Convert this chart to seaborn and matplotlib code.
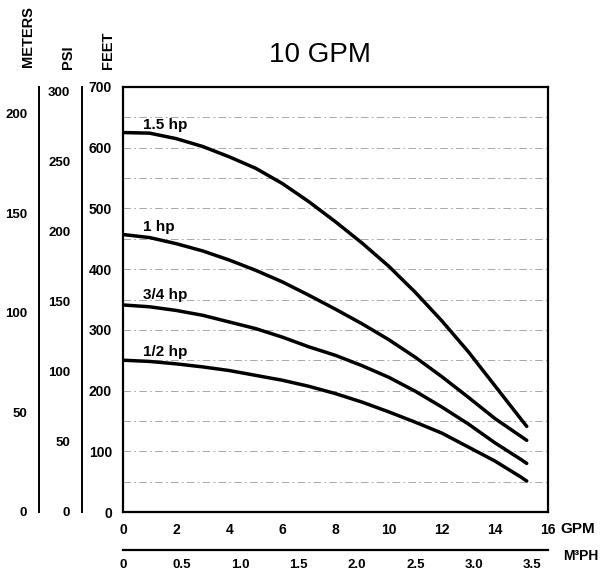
import pandas as pd
import seaborn as sns
import matplotlib
matplotlib.use("Agg")
import matplotlib.pyplot as plt

# 읽어온 값 (GPM 기준, FEET 단위)
gpm = [0, 1, 2, 3, 4, 5, 6, 7, 8, 9, 10, 11, 12, 13, 14, 15, 15.2]
hp_15 = [625, 624, 615, 602, 585, 566, 541, 511, 478, 443, 405, 362, 315, 264, 208, 152, 141]
hp_1 = [457, 452, 442, 430, 415, 398, 379, 357, 334, 310, 284, 255, 223, 189, 154, 124, 118]
hp_34 = [341, 338, 332, 324, 313, 302, 288, 272, 258, 241, 222, 199, 173, 145, 114, 86, 80]
hp_12 = [250, 248, 244, 239, 233, 225, 217, 207, 195, 181, 165, 148, 130, 107, 84, 57, 51]
motors = ["1.5 hp", "1 hp", "3/4 hp", "1/2 hp"]
label_y = [637, 470, 357, 264]

feet_ticks = [0, 100, 200, 300, 400, 500, 600, 700]
psi_ticks = [0, 50, 100, 150, 200, 250, 300]
meter_ticks = [0, 50, 100, 150, 200]
gpm_ticks = [0, 2, 4, 6, 8, 10, 12, 14, 16]
m3ph_ticks = [0, 0.5, 1.0, 1.5, 2.0, 2.5, 3.0, 3.5]

curves = pd.DataFrame({
    "gpm": gpm * 4,
    "feet": hp_15 + hp_1 + hp_34 + hp_12,
    "motor": [m for m in motors for _ in gpm],
})

sns.set_style("white")
plt.rcParams["font.family"] = ["Liberation Sans", "DejaVu Sans"]
for k in ["text.color", "axes.labelcolor", "xtick.color", "ytick.color"]:
    plt.rcParams[k] = "black"

W, H = 607, 577
fig = plt.figure(figsize=(W / 100, H / 100), dpi=100)

x0, x1, y0, y1 = 123, 548, 87, 512
ax = fig.add_axes([x0 / W, 1 - y1 / H, (x1 - x0) / W, (y1 - y0) / H])

#곡선
sns.lineplot(data=curves, x="gpm", y="feet", hue="motor",
             palette=["black"] * 4, linewidth=2.5, legend=False, ax=ax)

#점선 가이드
for v in range(50, 700, 50):
    ax.axhline(v, color="#9a9a9a", lw=0.6, ls=(0, (9, 4, 2, 4)), zorder=0)

for name, ly in zip(motors, label_y):
    ax.text(0.76, ly, name, fontsize=11, fontweight="bold", va="center", ha="left")

ax.set_xlim(0, 16)
ax.set_ylim(0, 700)
ax.set_xticks(gpm_ticks)
ax.set_yticks(feet_ticks)
ax.tick_params(length=0, labelsize=10, pad=8)
for lab in ax.get_xticklabels() + ax.get_yticklabels():
    lab.set_fontweight("bold")
ax.set_xlabel("")
ax.set_ylabel("")
for s in ax.spines.values():
    s.set_linewidth(1.6)
    s.set_color("black")

# PSI / METERS 축
def side_axis(xpix, top, ticks):
    a = fig.add_axes([xpix / W, 1 - y1 / H, 0.001, (y1 - y0) / H])
    a.set_ylim(0, top)
    a.set_yticks(ticks)
    a.set_xticks([])
    a.patch.set_alpha(0)
    for k in ["top", "right", "bottom"]:
        a.spines[k].set_visible(False)
    a.spines["left"].set_linewidth(1.4)
    a.spines["left"].set_color("black")
    a.tick_params(axis="y", direction="inout", length=5, width=1.2,
                  labelsize=9.5, pad=6)
    for lab in a.get_yticklabels():
        lab.set_fontweight("bold")
    return a

side_axis(82, 700 / 2.31, psi_ticks)
side_axis(39, 700 * 0.3048, meter_ticks)

# M3PH 축
bx = fig.add_axes([x0 / W, 1 - 550 / H, (x1 - x0) / W, 0.001])
bx.set_xlim(0, 16 / 4.403)
bx.set_xticks(m3ph_ticks)
bx.set_xticklabels([f"{t:.1f}" if t else "0" for t in m3ph_ticks])
bx.set_yticks([])
bx.patch.set_alpha(0)
for k in ["top", "left", "right"]:
    bx.spines[k].set_visible(False)
bx.spines["bottom"].set_linewidth(1.6)
bx.spines["bottom"].set_color("black")
bx.tick_params(axis="x", direction="out", length=5, width=1.4, labelsize=9.5, pad=1.5)
for lab in bx.get_xticklabels():
    lab.set_fontweight("bold")

#제목과 축 이름
fig.text(320 / W, 1 - 55 / H, "10 GPM", fontsize=20, ha="center", va="center")
fig.text(28 / W, 1 - 37 / H, "METERS", fontsize=10.5, fontweight="bold",
         rotation=90, ha="center", va="center")
fig.text(68 / W, 1 - 57 / H, "PSI", fontsize=10.5, fontweight="bold",
         rotation=90, ha="center", va="center")
fig.text(108 / W, 1 - 50 / H, "FEET", fontsize=10.5, fontweight="bold",
         rotation=90, ha="center", va="center")
fig.text(560 / W, 1 - 529 / H, "GPM", fontsize=11, fontweight="bold",
         ha="left", va="center")
fig.text(563 / W, 1 - 556 / H, "M³PH", fontsize=10, fontweight="bold",
         ha="left", va="center")

fig.savefig("out.png", dpi=100)
